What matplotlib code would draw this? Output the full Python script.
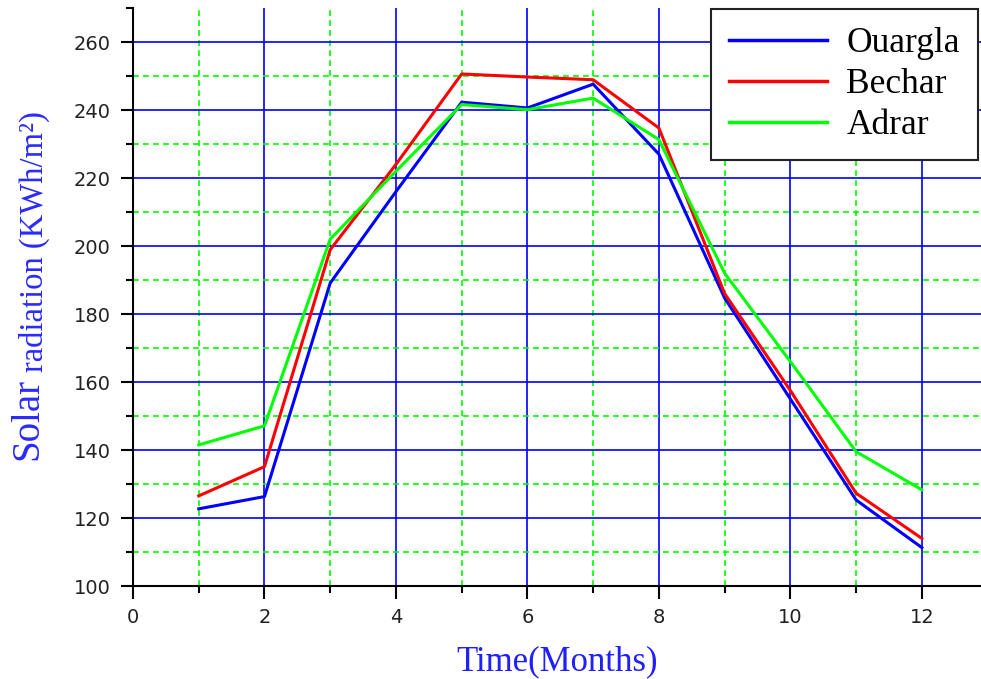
import matplotlib
matplotlib.use("Agg")
import matplotlib.pyplot as plt
from matplotlib.ticker import MultipleLocator, FixedLocator

months = [1, 2, 3, 4, 5, 6, 7, 8, 9, 10, 11, 12]
ouargla = [122.7, 126.3, 189.1, 216.0, 242.3, 240.6, 247.6, 227.0, 184.7, 155.0, 125.3, 111.3]
bechar = [126.5, 135.1, 198.9, 224.0, 250.6, 249.7, 248.9, 234.7, 186.0, 157.5, 127.3, 114.0]
adrar = [141.5, 147.1, 202.0, 222.0, 241.6, 240.1, 243.5, 231.3, 192.0, 166.0, 139.5, 128.3]
series_names = ["Ouargla", "Bechar", "Adrar"]
series_colors = ["#0000ff", "#ff0000", "#00ff00"]
y_major = [100, 120, 140, 160, 180, 200, 220, 240, 260]
y_minor = [110, 130, 150, 170, 190, 210, 230, 250]

fig = plt.figure(figsize=(9.81, 6.79), dpi=100)
ax = fig.add_axes([133/981, 1-586/679, 1-133/981, (586-8)/679])

for vals, name, col in zip([ouargla, bechar, adrar], series_names, series_colors):
    ax.plot(months, vals, color=col, lw=2.2, label=name, zorder=3)

ax.set_xlim(0, 12.9)
ax.set_ylim(100, 270)
ax.xaxis.set_major_locator(MultipleLocator(2))
ax.xaxis.set_minor_locator(MultipleLocator(1))
ax.yaxis.set_major_locator(FixedLocator(y_major))
ax.yaxis.set_minor_locator(FixedLocator(y_minor))

ax.grid(which="major", color="#0000ff", lw=1.2, ls="-", zorder=1)
ax.grid(which="minor", color="#00ff00", lw=1.2, ls=(0, (3.5, 2.5)), zorder=1)

for s in ["top", "right"]:
    ax.spines[s].set_visible(False)
for s in ["left", "bottom"]:
    ax.spines[s].set_linewidth(1.5)
    ax.spines[s].set_color("black")

ax.tick_params(which="major", direction="out", length=9, width=1.5, color="black",
               labelsize=14, labelcolor="#222222", pad=7)
ax.tick_params(which="minor", direction="out", length=5, width=1.5, color="black")
# top cap of the left axis
ax.plot([-0.0075, 0], [1, 1], transform=ax.transAxes, clip_on=False, color="black", lw=1.5)

ax.set_xlabel("Time(Months)", family="Liberation Serif", fontsize=25, color="#2020ff", labelpad=13)

fig.text(28/981, 1-460/679, "Solar", family="Liberation Serif", fontsize=28, color="#2a2aff",
         rotation=90, ha="left", va="center", rotation_mode="anchor")
fig.text(34/981, 1-372/679, "radiation (KWh/m\u00b2)", family="Liberation Serif", fontsize=23.5,
         color="#2a2aff", rotation=90, ha="left", va="center", rotation_mode="anchor")

leg = ax.legend(loc="upper left", bbox_to_anchor=((711-133)/848, 1-(9-8)/578),
                prop={"family": "Liberation Serif", "size": 25.5}, frameon=True, fancybox=False,
                edgecolor="#222222", framealpha=1, handlelength=2.75, handletextpad=0.55,
                labelspacing=0.22, borderpad=0.52, borderaxespad=0)
leg.get_frame().set_linewidth(1.5)
for line in leg.get_lines():
    line.set_linewidth(2.5)

fig.savefig("out.png", dpi=100)
